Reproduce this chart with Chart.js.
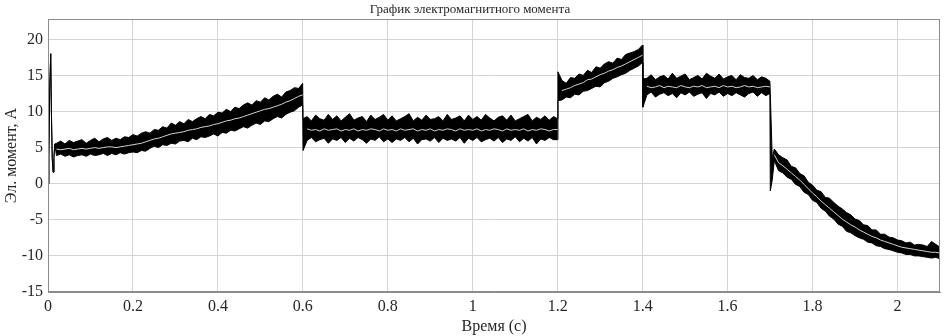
<!DOCTYPE html>
<html>
<head>
<meta charset="utf-8">
<script src="https://cdn.jsdelivr.net/npm/chart.js@4/dist/chart.umd.min.js"></script>
<style>
html,body{margin:0;padding:0;background:#fff;}
#wrap{width:945px;height:336px;position:relative;}
</style>
</head>
<body>
<div id="wrap"><canvas id="c"></canvas></div>
<script>
// ---- data ----
const titleText = 'График электромагнитного момента';
const xLabel = 'Время (с)';
const yLabel = 'Эл. момент, А';

const time = [
  // start-up transient
  0, 0.002, 0.004, 0.0064, 0.008, 0.01, 0.012, 0.014, 0.016,
  // 0.02 - 0.6
  0.02, 0.03, 0.04, 0.05, 0.06, 0.07, 0.08, 0.09,
  0.10, 0.11, 0.12, 0.13, 0.14, 0.15, 0.16, 0.17, 0.18, 0.19,
  0.20, 0.21, 0.22, 0.23, 0.24, 0.25, 0.26, 0.27, 0.28, 0.29,
  0.30, 0.31, 0.32, 0.33, 0.34, 0.35, 0.36, 0.37, 0.38, 0.39,
  0.40, 0.41, 0.42, 0.43, 0.44, 0.45, 0.46, 0.47, 0.48, 0.49,
  0.50, 0.51, 0.52, 0.53, 0.54, 0.55, 0.56, 0.57, 0.58, 0.59,
  0.5995,
  // 0.6 - 1.2
  0.6005,
  0.61, 0.62, 0.63, 0.64, 0.65, 0.66, 0.67, 0.68, 0.69, 0.70,
  0.71, 0.72, 0.73, 0.74, 0.75, 0.76, 0.77, 0.78, 0.79, 0.80,
  0.81, 0.82, 0.83, 0.84, 0.85, 0.86, 0.87, 0.88, 0.89, 0.90,
  0.91, 0.92, 0.93, 0.94, 0.95, 0.96, 0.97, 0.98, 0.99, 1.00,
  1.01, 1.02, 1.03, 1.04, 1.05, 1.06, 1.07, 1.08, 1.09, 1.10,
  1.11, 1.12, 1.13, 1.14, 1.15, 1.16, 1.17, 1.18, 1.19,
  1.1995,
  // 1.2 - 1.4
  1.2005,
  1.21, 1.22, 1.23, 1.24, 1.25, 1.26, 1.27, 1.28, 1.29, 1.30,
  1.31, 1.32, 1.33, 1.34, 1.35, 1.36, 1.37, 1.38, 1.39,
  1.3995,
  // 1.4 - 1.7
  1.4005,
  1.41, 1.42, 1.43, 1.44, 1.45, 1.46, 1.47, 1.48, 1.49, 1.50,
  1.51, 1.52, 1.53, 1.54, 1.55, 1.56, 1.57, 1.58, 1.59, 1.60,
  1.61, 1.62, 1.63, 1.64, 1.65, 1.66, 1.67, 1.68, 1.69,
  1.6995,
  // 1.7 - 2.1
  1.7005, 1.705,
  1.71, 1.72, 1.73, 1.74, 1.75, 1.76, 1.77, 1.78, 1.79, 1.80,
  1.81, 1.82, 1.83, 1.84, 1.85, 1.86, 1.87, 1.88, 1.89, 1.90,
  1.91, 1.92, 1.93, 1.94, 1.95, 1.96, 1.97, 1.98, 1.99, 2.00,
  2.01, 2.02, 2.03, 2.04, 2.05, 2.06, 2.07, 2.08, 2.09, 2.10
];

// upper edge of the noisy torque band
const torqueUpper = [
  0, 4, 13, 18, 10, 3.5, 1.6, 3.6, 5.5,
  5.6, 5.9, 5.5, 6.0, 5.7, 5.9, 6.1, 5.6,
  6.0, 6.3, 5.8, 6.2, 6.4, 6.0, 6.3, 6.1, 6.5, 6.4,
  6.8, 6.6, 7.0, 7.2, 7.0, 7.5, 7.4, 7.9, 7.7, 8.4,
  8.1, 8.6, 8.3, 8.9, 8.6, 9.0, 9.3, 9.0, 9.6, 9.4,
  9.9, 9.8, 10.3, 10.0, 10.6, 10.4, 10.9, 11.2, 10.9, 11.5,
  11.3, 11.9, 11.6, 12.1, 12.4, 12.0, 12.7, 12.9, 13.3, 13.2,
  13.9,
  9.0,
  9.3, 8.7, 9.5, 9.0, 8.8, 9.6, 8.9, 9.4, 8.7, 9.2,
  9.7, 8.8, 9.1, 9.3, 8.6, 9.5, 8.9, 9.2, 9.6, 8.8,
  9.4, 8.7, 9.0, 9.3, 9.7, 8.7, 9.2, 8.8, 9.5, 8.9,
  9.0, 9.3, 8.7, 9.6, 8.9, 9.1, 9.4, 8.7, 9.5, 8.9,
  9.3, 8.8, 9.6, 9.1, 8.7, 9.2, 9.4, 8.8, 9.5, 8.7,
  9.0, 9.3, 9.6, 8.7, 9.2, 8.9, 9.4, 8.8, 9.3,
  9.0,
  15.5,
  14.3, 13.9, 14.7, 14.6, 15.2, 15.0, 15.7, 15.4, 16.2, 16.0,
  16.6, 16.9, 16.7, 17.4, 17.2, 17.9, 18.1, 18.3, 18.6,
  19.2,
  14.5,
  14.6, 15.1, 14.4, 14.8, 15.0, 14.5, 15.3, 14.6, 14.9, 15.2,
  14.4, 14.7, 15.0, 14.5, 15.3, 14.9, 14.6, 15.2, 14.5, 14.8,
  15.0, 14.4, 15.1, 14.7, 14.6, 15.0, 14.4, 14.8, 14.6,
  14.2,
  12.5, 3.5,
  4.8, 4.0, 3.6, 3.3, 2.4, 2.2, 1.4, 1.1, 0.2, -0.2,
  -0.9, -1.1, -1.9, -2.0, -2.6, -3.1, -3.5, -4.0, -4.3, -4.9,
  -5.1, -5.7, -5.8, -6.4, -6.4, -7.0, -7.0, -7.4, -7.5, -7.8,
  -7.9, -8.2, -8.1, -8.5, -8.4, -8.5, -8.7, -8.0, -8.4, -8.8
];

// lower edge of the noisy torque band
const torqueLower = [
  0, 4, 13, 18, 10, 3.5, 1.6, 3.6, 5.5,
  3.9, 4.1, 3.8, 4.0, 3.7, 3.9, 4.0, 3.8,
  4.1, 3.9, 4.0, 4.2, 3.9, 4.2, 4.0, 4.3, 4.1, 4.3,
  4.4, 4.3, 4.6, 4.5, 4.9, 5.2, 5.0, 5.4, 5.3, 5.6,
  5.5, 5.9, 6.0, 5.8, 6.3, 6.1, 6.5, 6.4, 6.6, 6.9,
  6.6, 7.1, 7.0, 7.4, 7.3, 7.6, 7.9, 7.7, 8.1, 8.4,
  8.2, 8.7, 8.6, 9.0, 9.3, 9.1, 9.6, 9.9, 10.1, 10.6,
  10.9,
  4.6,
  6.0, 6.4, 5.8, 6.1, 6.3, 5.6, 6.2, 6.0, 6.4, 5.7,
  6.3, 5.9, 6.4, 6.1, 5.6, 6.2, 6.0, 6.5, 5.8, 6.2,
  5.7, 6.2, 6.0, 6.4, 5.8, 6.3, 5.5, 6.1, 6.2, 5.9,
  6.4, 5.7, 6.3, 6.0, 6.2, 5.9, 6.4, 5.6, 6.3, 6.0,
  6.4, 5.8, 6.1, 6.3, 5.9, 6.4, 5.7, 6.2, 6.0, 6.5,
  5.8, 6.3, 5.9, 6.4, 5.5, 6.2, 6.0, 6.4, 6.1,
  6.1,
  11.5,
  11.6, 12.0, 11.9, 12.4, 12.3, 12.8, 12.9, 13.2, 13.5, 13.4,
  14.0, 14.2, 14.6, 14.8, 15.1, 15.3, 15.7, 16.0, 16.3,
  16.8,
  10.6,
  12.3, 12.7, 12.0, 12.4, 12.6, 12.2, 12.5, 11.9, 12.6, 12.3,
  12.7, 12.1, 12.4, 12.6, 11.8, 12.5, 12.3, 12.7, 12.1, 12.5,
  12.2, 12.6, 12.3, 12.0, 12.5, 12.7, 12.1, 12.6, 12.2,
  12.5,
  -1.0, 0.5,
  3.2, 1.8, 1.5, 0.9, 0.6, -0.1, -0.4, -1.2, -1.5, -2.3,
  -2.6, -3.4, -3.8, -4.5, -4.9, -5.6, -5.9, -6.6, -6.8, -7.2,
  -7.5, -7.7, -8.1, -8.2, -8.6, -8.7, -9.0, -9.1, -9.3, -9.5,
  -9.6, -9.8, -9.8, -10.0, -10.0, -10.1, -10.2, -10.3, -10.2, -10.4
];

// averaged (white) torque curve
const torqueMean = [
  null, null, null, null, null, null, null, null, null,
  4.8, 4.7, 4.8, 4.9, 4.7, 4.8, 4.9, 4.8,
  4.9, 5.0, 4.9, 5.0, 5.1, 5.1, 5.0, 5.1, 5.2, 5.3,
  5.4, 5.5, 5.6, 5.8, 6.0, 6.2, 6.3, 6.5, 6.7, 6.9,
  7.0, 7.1, 7.2, 7.4, 7.5, 7.6, 7.8, 7.9, 8.0, 8.2,
  8.3, 8.5, 8.7, 8.8, 9.0, 9.1, 9.3, 9.5, 9.7, 9.9,
  10.1, 10.3, 10.4, 10.6, 10.8, 11.0, 11.3, 11.5, 11.8, 12.1,
  12.3,
  null,
  7.6, 7.4, 7.5, 7.3, 7.6, 7.4, 7.5, 7.6, 7.3, 7.5,
  7.4, 7.6, 7.3, 7.5, 7.4, 7.6, 7.5, 7.3, 7.6, 7.4,
  7.5, 7.3, 7.6, 7.4, 7.5, 7.6, 7.3, 7.5, 7.4, 7.6,
  7.3, 7.5, 7.4, 7.6, 7.5, 7.3, 7.6, 7.4, 7.5, 7.4,
  7.6, 7.3, 7.5, 7.4, 7.6, 7.5, 7.3, 7.6, 7.4, 7.5,
  7.4, 7.6, 7.3, 7.5, 7.4, 7.6, 7.5, 7.3, 7.5,
  7.5,
  null,
  12.9, 13.1, 13.3, 13.6, 13.8, 14.0, 14.4, 14.5, 14.8, 15.1,
  15.3, 15.6, 15.8, 16.1, 16.3, 16.6, 16.9, 17.2, 17.5,
  17.8,
  null,
  13.5, 13.3, 13.4, 13.6, 13.3, 13.5, 13.4, 13.3, 13.6, 13.4,
  13.3, 13.5, 13.4, 13.6, 13.3, 13.4, 13.5, 13.3, 13.6, 13.4,
  13.5, 13.3, 13.4, 13.6, 13.4, 13.5, 13.3, 13.4, 13.5,
  13.4,
  null, null,
  4.0, 2.9, 2.5, 2.0, 1.5, 1.0, 0.5, -0.1, -0.7, -1.3,
  -1.8, -2.4, -2.9, -3.4, -3.9, -4.4, -4.9, -5.3, -5.7, -6.0,
  -6.4, -6.7, -7.0, -7.3, -7.5, -7.8, -8.0, -8.2, -8.4, -8.6,
  -8.8, -8.9, -9.0, -9.1, -9.2, -9.3, -9.4, -9.5, -9.5, -9.6
];

const xRange = [0, 2.1];
const yRange = [-15, 22.8];

// ---- chart ----
const pts = arr => time.map((t, i) => ({ x: t, y: arr[i] === undefined ? null : arr[i] }));
const FONT = '"Liberation Serif", "Times New Roman", serif';
const TXT = '#262626';

const boxPlugin = {
  id: 'box',
  afterDraw(chart) {
    const { ctx, chartArea: a } = chart;
    ctx.save();
    ctx.strokeStyle = '#8c8c8c';
    ctx.lineWidth = 1;
    ctx.strokeRect(Math.round(a.left) + 0.5, Math.round(a.top) + 0.5,
                   Math.round(a.right - a.left) - 1, Math.round(a.bottom - a.top) - 1);
    ctx.restore();
  }
};

new Chart(document.getElementById('c'), {
  type: 'line',
  data: {
    datasets: [
      { label: 'mean', data: pts(torqueMean), borderColor: '#d2d2d2', borderWidth: 1,
        pointRadius: 0, fill: false, spanGaps: false, tension: 0 },
      { label: 'lower', data: pts(torqueLower), borderColor: '#000', borderWidth: 1,
        pointRadius: 0, fill: false, tension: 0 },
      { label: 'upper', data: pts(torqueUpper), borderColor: '#000', borderWidth: 1,
        pointRadius: 0, fill: 1, backgroundColor: '#000', tension: 0 }
    ]
  },
  options: {
    responsive: true,
    maintainAspectRatio: false,
    animation: false,
    layout: { padding: { left: 0, right: 5, top: 0, bottom: 0 } },
    plugins: {
      legend: { display: false },
      tooltip: { enabled: false },
      title: {
        display: true, text: titleText, color: TXT,
        font: { family: FONT, size: 13, weight: 'normal' },
        padding: { top: 2, bottom: 1.5 }
      }
    },
    scales: {
      x: {
        type: 'linear', min: xRange[0], max: xRange[1],
        afterFit(s) { s.height = 44; },
        grid: { color: '#d4d4d4', lineWidth: 1, drawTicks: false },
        border: { display: true, color: '#8c8c8c' },
        ticks: {
          stepSize: 0.2, includeBounds: false, padding: 5, color: TXT,
          font: { family: FONT, size: 16 }, maxRotation: 0, autoSkip: false,
          callback: v => String(Number(v.toFixed(1)))
        },
        title: { display: true, text: xLabel, color: TXT,
          font: { family: FONT, size: 16 }, padding: { top: 0, bottom: 0 } }
      },
      y: {
        type: 'linear', min: yRange[0], max: yRange[1],
        afterFit(s) { s.width = 48; },
        grid: { color: '#d4d4d4', lineWidth: 1, drawTicks: false },
        border: { display: true, color: '#8c8c8c' },
        ticks: {
          stepSize: 5, includeBounds: false, padding: 5, color: TXT,
          font: { family: FONT, size: 16 }, autoSkip: false
        },
        title: { display: true, text: yLabel, color: TXT,
          font: { family: FONT, size: 16 }, padding: { top: 2, bottom: 0 } }
      }
    }
  },
  plugins: [boxPlugin]
});
</script>
</body>
</html>
